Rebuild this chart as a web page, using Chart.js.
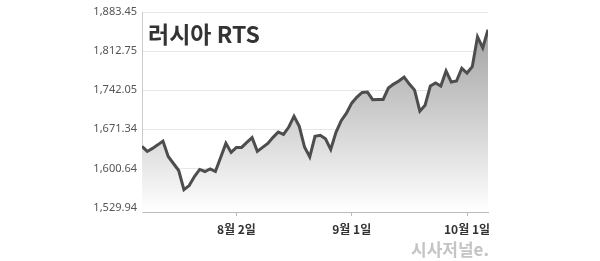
<!DOCTYPE html>
<html>
<head>
<meta charset="utf-8">
<script src="https://cdn.jsdelivr.net/npm/chart.js@4/dist/chart.umd.min.js"></script>
<style>
  html,body{margin:0;padding:0;background:#fff;}
  #wrap{width:600px;height:261px;position:relative;}
</style>
</head>
<body>
<div id="wrap"><canvas id="grafico"></canvas></div>
<script>
// 러시아 RTS 지수, 7/7 ~ 10/7 거래일 종가
var values=[1640.4,1631.3,1636.8,1643.2,1650.1,1622.3,1609.5,1596.8,1562.3,1569.6,
  1586.0,1598.7,1595.0,1599.6,1595.0,1620.5,1645.9,1629.5,1638.6,1638.6,
  1647.7,1656.3,1631.4,1638.6,1645.9,1656.8,1666.4,1662.2,1675.5,1695.0,
  1676.8,1639.2,1621.4,1658.6,1660.4,1654.1,1635.0,1665.9,1686.8,1700.4,
  1718.6,1729.5,1738.1,1738.6,1725.0,1725.3,1725.3,1745.9,1753.1,1758.6,
  1765.9,1753.1,1742.2,1704.1,1715.0,1749.5,1755.0,1749.5,1776.8,1756.8,
  1758.6,1781.7,1773.1,1784.6,1838.6,1818.6,1851.3];
var yTicks=[1529.94,1600.64,1671.34,1742.05,1812.75,1883.45];
var xTickPos=[18,40,62];
var xTickLabels=["8월 2일","9월 1일","10월 1일"];
var titulo="러시아 RTS";
var marca="시사저널e.";

var pontos=[];
for(var i=0;i<values.length;i++){
    pontos.push({x:i,y:values[i]});
}

var textos={
    id:"textos",
    afterDraw:function(chart){
        var ctx=chart.ctx;
        ctx.save();
        ctx.fillStyle="#333";
        ctx.font="bold 23px 'Noto Sans CJK KR'";
        ctx.textBaseline="alphabetic";
        ctx.textAlign="left";
        ctx.fillText(titulo,148,43);
        ctx.fillStyle="#c4c4c4";
        ctx.font="bold 17px 'Noto Sans CJK KR'";
        ctx.textAlign="right";
        ctx.fillText(marca,489,256);
        ctx.restore();
    }
};

var dados={
    datasets:[{
        label:"RTS",
        data:pontos,
        borderColor:"#4d4d4d",
        borderWidth:3,
        pointRadius:0,
        tension:0,
        fill:"start",
        backgroundColor:function(c){
            var area=c.chart.chartArea;
            if(!area) return "rgba(0,0,0,0)";
            var g=c.chart.ctx.createLinearGradient(0,area.top,0,area.bottom);
            g.addColorStop(0,"#9a9a9a");
            g.addColorStop(1,"#ffffff");
            return g;
        }
    }]
};

var config={
    type:"line",
    data:dados,
    plugins:[textos],
    options:{
        responsive:false,
        animation:false,
        layout:{padding:{top:12,right:112,left:0,bottom:0}},
        plugins:{legend:{display:false},tooltip:{enabled:false}},
        scales:{
            x:{
                type:"linear",
                min:0,
                max:values.length-1,
                afterBuildTicks:function(s){
                    s.ticks=xTickPos.map(function(v){return {value:v};});
                },
                afterFit:function(s){ s.height=49; },
                ticks:{
                    autoSkip:false,
                    maxRotation:0,
                    padding:6,
                    color:"#333",
                    font:{family:"'Noto Sans CJK KR'",size:12,weight:"bold"},
                    callback:function(v){
                        var k=xTickPos.indexOf(v);
                        return k>=0 ? xTickLabels[k] : "";
                    }
                },
                grid:{drawOnChartArea:false,tickLength:4,color:"#bbbbbb"},
                border:{color:"#bbbbbb",width:1}
            },
            y:{
                min:1521.8,
                max:1883.45,
                afterBuildTicks:function(s){
                    s.ticks=yTicks.map(function(v){return {value:v};});
                },
                afterFit:function(s){ s.width=142; },
                ticks:{
                    padding:5,
                    color:"#555",
                    font:{family:"'Noto Sans'",size:11},
                    callback:function(v){
                        return v.toLocaleString("en-US",{minimumFractionDigits:2,maximumFractionDigits:2});
                    }
                },
                grid:{color:"#e6e6e6",drawTicks:false},
                border:{color:"#cccccc",width:1}
            }
        }
    }
};

var cv=document.getElementById("grafico");
cv.width=600;
cv.height=261;
new Chart(cv.getContext("2d"),config);
</script>
</body>
</html>
